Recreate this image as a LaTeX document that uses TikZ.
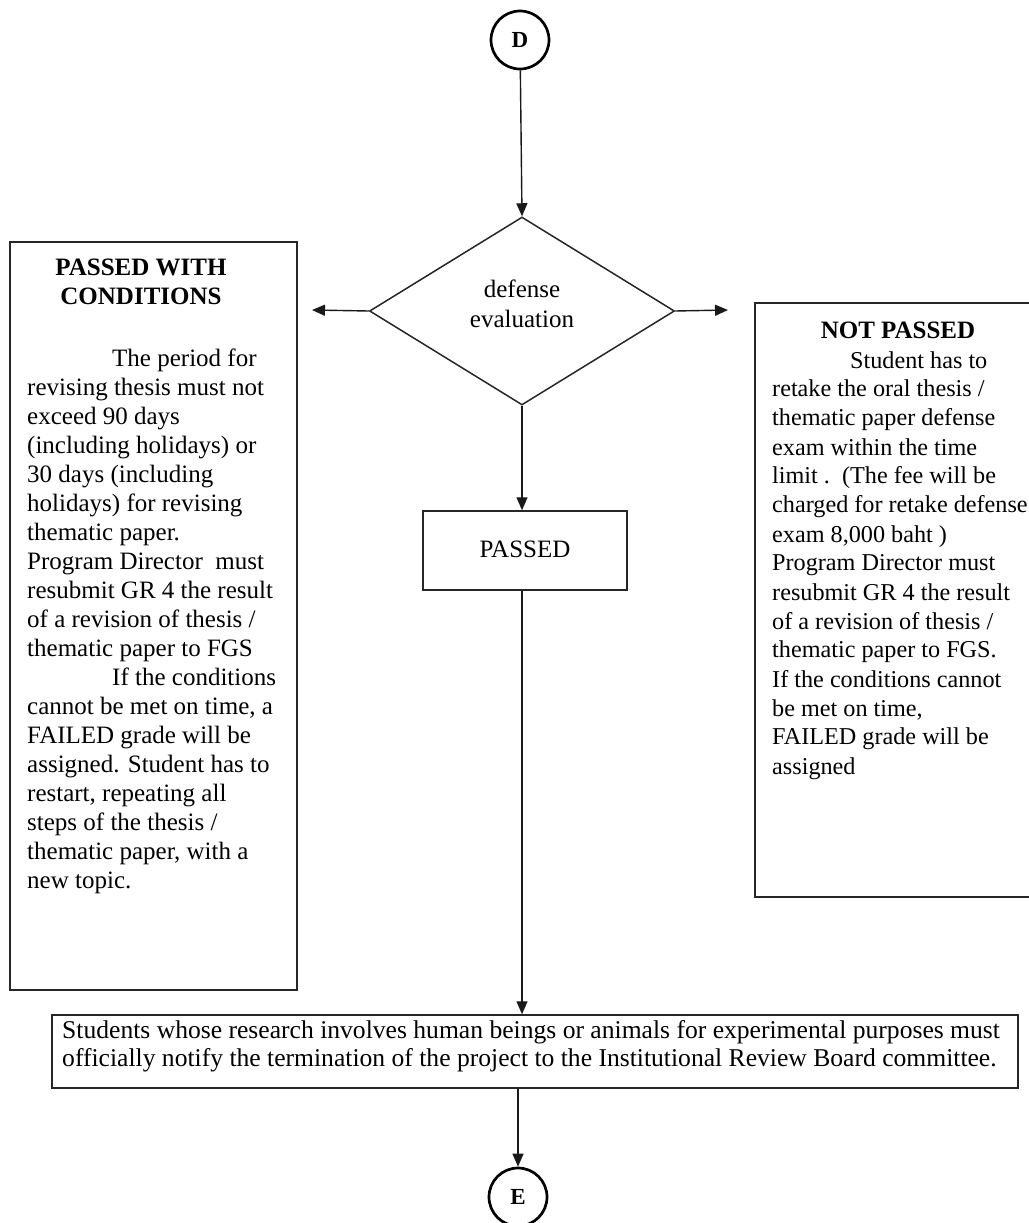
\documentclass[tikz,border=0pt]{standalone}
\usepackage{fontspec}
\setmainfont{Liberation Serif}
\usetikzlibrary{shapes.geometric,arrows.meta}
\begin{document}
\begin{tikzpicture}[x=1pt,y=-1pt,
  every node/.style={font=\fontsize{25}{29}\selectfont, text=black},
  box/.style={draw=black!85, line width=1.5pt, inner sep=0pt},
  txt/.style={align=left, inner sep=0pt, anchor=north west},
  ttl/.style={align=center, inner sep=0pt, font=\fontsize{25}{29}\selectfont\bfseries},
  conn/.style={line width=1.4pt, draw=black!90, -{Triangle[length=13pt,width=11pt]}},
  circ/.style={draw=black, circle, line width=2.7pt, minimum size=58pt, inner sep=0pt, font=\fontsize{23}{25}\selectfont\bfseries}]
\useasboundingbox (0,0) rectangle (1028,1223);
% top connector
\node[circ] (D) at (520,40) {D};
% decision
\node[diamond, box, minimum width=305pt, minimum height=188pt] (dec) at (522,311) {};
\node[align=center, inner sep=0pt, font=\fontsize{25}{30}\selectfont] (dectext) at (522,304) {defense\\evaluation};
\coordinate (lend) at (312,310);
\coordinate (rend) at (728,310);
% left box
\node[box, minimum width=287pt, minimum height=748pt] (lbox) at (153.5,616) {};
\node[ttl] (ltitle) at (141,282) {PASSED WITH\\CONDITIONS};
\node[txt] (ltext) at (27,349) {\hspace*{85pt}The period for\\
revising thesis must not\\
exceed 90 days\\
(including holidays) or\\
30 days (including\\
holidays) for revising\\
thematic paper.\\
Program Director\ \ must\\
resubmit GR 4 the result\\
of a revision of thesis /\\
thematic paper to FGS\\
\hspace*{85pt}If the conditions\\
cannot be met on time, a\\
FAILED grade will be\\
assigned. Student has to\\
restart, repeating all\\
steps of the thesis /\\
thematic paper, with a\\
new topic.};
% right box
\node[box, minimum width=320pt, minimum height=594pt] (rbox) at (915,600) {};
\node[ttl] (rtitle) at (898,330) {NOT PASSED};
\node[txt, font=\fontsize{24.2}{29}\selectfont] (rtext) at (772,351) {\hspace*{78pt}Student has to\\
retake the oral thesis /\\
thematic paper defense\\
exam within the time\\
limit .\ \ (The fee will be\\
charged for retake defense\\
exam 8,000 baht )\\
Program Director must\\
resubmit GR 4 the result\\
of a revision of thesis /\\
thematic paper to FGS.\\
If the conditions cannot\\
be met on time,\\
FAILED grade will be\\
assigned};
% passed
\node[box, minimum width=204pt, minimum height=79pt, text depth=3pt] (pass) at (525,550.5) {PASSED};
% bottom box
\node[box, minimum width=966pt, minimum height=73pt] (bot) at (535,1051.5) {};
\node[txt, font=\fontsize{25.6}{28}\selectfont] (bottext) at (62,1020) {Students whose research involves human beings or animals for experimental purposes must\\
officially notify the termination of the project to the Institutional Review Board committee.};
% end connector
\node[circ] (E) at (518,1197) {E};
% connectors
\draw[conn] (D) -- (dec.north);
\draw[conn] (dec.west) -- (lend);
\draw[conn] (dec.east) -- (rend);
\draw[conn] (dec.south) -- (dec.south |- pass.north);
\draw[conn] (dec.south |- pass.south) -- (dec.south |- bot.north);
\draw[conn] (E.north |- bot.south) -- (E.north);
\end{tikzpicture}
\end{document}
